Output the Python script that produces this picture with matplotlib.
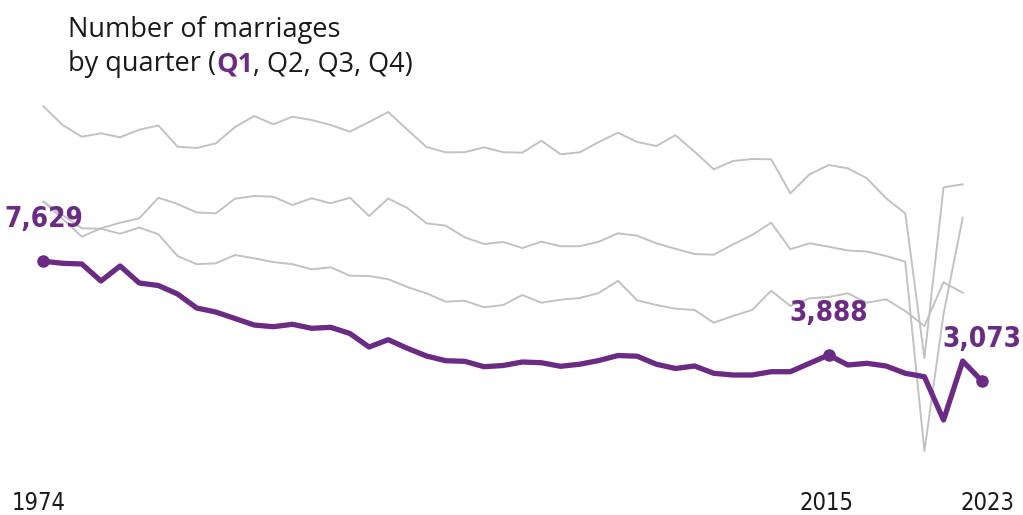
import matplotlib
matplotlib.use("Agg")
import matplotlib.pyplot as plt
import numpy as np

# ---------------- data ----------------
years = list(range(1974, 2024))
q1 = [7629, 7532, 7500, 6736, 7408, 6649, 6540, 6180, 5607, 5448,
      5196, 4949, 4886, 4976, 4826, 4864, 4636, 4159, 4414, 4115,
      3856, 3702, 3682, 3510, 3548, 3660, 3637, 3523, 3589, 3708,
      3872, 3849, 3589, 3454, 3532, 3305, 3253, 3253, 3354, 3354,
      3618, 3888, 3564, 3618, 3532, 3305, 3201, 2029, 3692, 3073]
q2 = [10649, 9720, 8812, 9237, 9526, 9756, 10870, 10523, 10064, 10020,
      10815, 10965, 10926, 10469, 10837, 10561, 10870, 9877, 10826, 10306,
      9495, 9371, 8782, 8451, 8549, 8256, 8564, 8343, 8343, 8564,
      8983, 8862, 8485, 8217, 7968, 7935, 8426, 8898, 9526, 8198,
      8485, 8319, 8136, 8087, 7873, 7606, 1354, 5370, 9787]
q3 = [16538, 15282, 14522, 14741, 14484, 14975, 15250, 13887, 13806, 14101,
      15151, 15881, 15329, 15833, 15613, 15282, 14845, 15481, 16152, 14975,
      13868, 13537, 13544, 13849, 13544, 13514, 14266, 13414, 13537, 14185,
      14780, 14185, 13931, 14619, 13575, 12504, 13003, 13126, 13108, 11116,
      12208, 12762, 12564, 11975, 10837, 10020, 3790, 11455, 11627]
q4 = [10649, 9930, 9237, 9216, 8962, 9278, 8932, 7873, 7491, 7532,
      7921, 7765, 7592, 7491, 7257, 7348, 6969, 6956, 6815, 6476,
      6209, 5861, 5902, 5635, 5727, 6138, 5821, 5943, 6013, 6221,
      6745, 5919, 5727, 5579, 5528, 5036, 5293, 5528, 6318, 5687,
      6001, 6054, 6209, 5821, 5960, 5488, 4912, 6679, 6234]
highlight_years = [1974, 2015, 2023]
tick_years = [1974, 2015, 2023]

PURPLE = "#6b2a83"
GREY = "#c2c2c2"
TEXT = "#1a1a1a"

W, H = 1023, 515
fig = plt.figure(figsize=(W / 100, H / 100), dpi=100)
ax = fig.add_axes([43.5 / W, 1 - 470 / H, (981.85 - 43.5) / W, 380 / H])
ax.set_yscale("function", functions=(lambda v: np.sqrt(np.maximum(v, 0)),
                                     lambda s: np.square(s)))
ax.set_xlim(1974, 2023)
ax.set_ylim(1007, 17675)
ax.axis("off")

for s in (q2, q3, q4):
    ax.plot(years[:len(s)], s, color=GREY, lw=1.4, clip_on=False, zorder=1)

ax.plot(years, q1, color=PURPLE, lw=3.8, solid_joinstyle="round",
        solid_capstyle="round", clip_on=False, zorder=3)

num_font = ["DejaVu Sans Condensed", "DejaVu Sans"]
for y in highlight_years:
    v = q1[years.index(y)]
    ax.plot([y], [v], "o", color=PURPLE, ms=8, clip_on=False, zorder=4)
    ax.annotate(f"{v:,}", xy=(y, v), xytext=(0, 34), textcoords="offset pixels",
                ha="center", va="baseline", fontsize=20, fontweight="bold",
                family=num_font, stretch="condensed", color=PURPLE, zorder=5)

offsets = {1974: -5, 2015: -2, 2023: 6}
for y in tick_years:
    ax.annotate(str(y), xy=(y, 0), xycoords=("data", "axes fraction"),
                xytext=(offsets.get(y, 0), -40), textcoords="offset pixels",
                ha="center", va="baseline", fontsize=17, family=num_font,
                stretch="condensed", color=TEXT)

# ---------------- title ----------------
title_font = ["Open Sans", "DejaVu Sans"]
x0 = 68 / W
fig.text(x0, 1 - 36.5 / H, "Number of marriages", fontsize=19.5,
         family=title_font, color=TEXT, va="baseline", ha="left")
r = fig.canvas.get_renderer()
yb = 1 - 71.5 / H
parts = [("by quarter (", TEXT, "normal"), ("Q1", PURPLE, "bold"),
         (", Q2, Q3, Q4)", TEXT, "normal")]
xc = x0
for txt, col, wt in parts:
    t = fig.text(xc, yb, txt, fontsize=19.5, family=title_font, color=col,
                 fontweight=wt, va="baseline", ha="left")
    bb = t.get_window_extent(r)
    xc = bb.x1 / W

fig.savefig("out.png", dpi=100)
